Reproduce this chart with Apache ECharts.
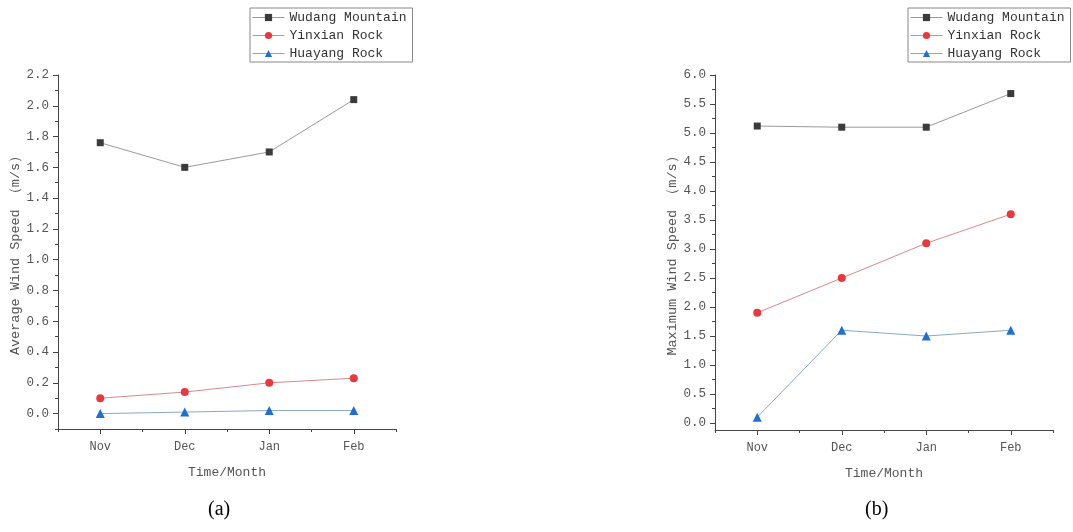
<!DOCTYPE html>
<html><head><meta charset="utf-8">
<script src="https://cdn.jsdelivr.net/npm/echarts@6/dist/echarts.min.js"></script>
<style>html,body{margin:0;padding:0;background:#fff}#c{width:1073px;height:532px}</style>
</head><body><div id="c"></div>
<script>
const months = ['Nov', 'Dec', 'Jan', 'Feb'];
const seriesNames = ['Wudang Mountain', 'Yinxian Rock', 'Huayang Rock'];
// (a) Average wind speed
const avgWudang = [1.76, 1.60, 1.70, 2.04];
const avgYinxian = [0.10, 0.14, 0.20, 0.23];
const avgHuayang = [0.00, 0.01, 0.02, 0.02];
// (b) Maximum wind speed
const maxWudang = [5.12, 5.10, 5.10, 5.68];
const maxYinxian = [1.90, 2.50, 3.10, 3.60];
const maxHuayang = [0.10, 1.60, 1.50, 1.60];
// tick labels
const ticksA = [0, 0.2, 0.4, 0.6, 0.8, 1.0, 1.2, 1.4, 1.6, 1.8, 2.0, 2.2];
const minorA = [-0.1, 0.1, 0.3, 0.5, 0.7, 0.9, 1.1, 1.3, 1.5, 1.7, 1.9, 2.1];
const ticksB = [0, 0.5, 1.0, 1.5, 2.0, 2.5, 3.0, 3.5, 4.0, 4.5, 5.0, 5.5, 6.0];
const minorB = [0.25, 0.75, 1.25, 1.75, 2.25, 2.75, 3.25, 3.75, 4.25, 4.75, 5.25, 5.75];

const FONT = '"Liberation Mono", "DejaVu Sans Mono", monospace';
const TXT = '#555';
const AX = '#444';
const styles = [
  {symbol: 'rect', size: 7, color: '#3b3b3b', line: '#9a9a9a'},
  {symbol: 'circle', size: 8, color: '#e8383d', line: '#d98a8a'},
  {symbol: 'triangle', size: 9, color: '#1f6fd0', line: '#8aa9c4'}
];

const chart = echarts.init(document.getElementById('c'), null, {renderer: 'canvas'});

const panels = [
  {left: 58, top: 75, height: 354, min: -0.1, max: 2.2, ticks: ticksA, minor: minorA,
   name: 'Average Wind Speed （m/s）', data: [avgWudang, avgYinxian, avgHuayang], legendLeft: 250, fmt: v => v.toFixed(1)},
  {left: 715, top: 75, height: 355, min: -0.12, max: 6.0, ticks: ticksB, minor: minorB,
   name: 'Maximum Wind Speed （m/s）', data: [maxWudang, maxYinxian, maxHuayang], legendLeft: 908, fmt: v => v.toFixed(1)}
];

const option = {
  animation: false,
  backgroundColor: '#fff',
  textStyle: {fontFamily: FONT},
  grid: [], xAxis: [], yAxis: [], series: [], legend: [],
  graphic: [
    {type: 'text', left: 208, top: 500, style: {text: '(a)', fontFamily: '"Liberation Serif", serif', fontSize: 20, fill: '#000'}},
    {type: 'text', left: 865, top: 500, style: {text: '(b)', fontFamily: '"Liberation Serif", serif', fontSize: 20, fill: '#000'}}
  ]
};

panels.forEach((p, i) => {
  option.grid.push({left: p.left, top: p.top, width: 338, height: p.height});
  // main x axis
  option.xAxis.push({
    type: 'category', gridIndex: i, data: months, boundaryGap: true, position: 'bottom',
    name: 'Time/Month', nameLocation: 'middle', nameGap: 37,
    nameTextStyle: {fontFamily: FONT, fontSize: 13, color: TXT},
    axisLine: {show: true, onZero: false, lineStyle: {color: AX, width: 1}},
    axisTick: {show: true, alignWithLabel: true, length: 5, lineStyle: {color: AX}},
    axisLabel: {fontFamily: FONT, fontSize: 12, color: TXT, margin: 12},
    splitLine: {show: false}
  });
  // minor x ticks
  option.xAxis.push({
    type: 'category', gridIndex: i, data: months, boundaryGap: true, position: 'bottom',
    axisLine: {show: false, onZero: false},
    axisTick: {show: true, alignWithLabel: false, length: 3, lineStyle: {color: AX}},
    axisLabel: {show: false}, splitLine: {show: false}
  });
  option.yAxis.push({
    type: 'value', gridIndex: i, min: p.min, max: p.max, position: 'left',
    name: p.name, nameLocation: 'middle', nameGap: 34,
    nameTextStyle: {fontFamily: FONT, fontSize: 13.5, color: TXT},
    axisLine: {show: true, onZero: false, lineStyle: {color: AX, width: 1}},
    axisTick: {show: true, length: 5, customValues: p.ticks, lineStyle: {color: AX}},
    axisLabel: {fontFamily: FONT, fontSize: 12.5, color: TXT, margin: 9, customValues: p.ticks, formatter: p.fmt},
    splitLine: {show: false}
  });
  option.yAxis.push({
    type: 'value', gridIndex: i, min: p.min, max: p.max, position: 'left',
    axisLine: {show: false, onZero: false},
    axisTick: {show: true, length: 3, customValues: p.minor, lineStyle: {color: AX}},
    axisLabel: {show: false}, splitLine: {show: false}
  });
  option.legend.push({
    orient: 'vertical', left: p.legendLeft, top: 8,
    data: seriesNames,
    borderColor: '#888', borderWidth: 1, borderRadius: 0,
    padding: [3, 6, 2, 2], itemGap: 5, itemWidth: 32, itemHeight: 9,
    lineStyle: {width: 1},
    textStyle: {fontFamily: FONT, fontSize: 13, color: '#333'},
    selectedMode: false
  });
  p.data.forEach((d, k) => {
    const s = styles[k];
    option.series.push({
      name: seriesNames[k], type: 'line', xAxisIndex: i * 2, yAxisIndex: i * 2,
      data: d, symbol: s.symbol, symbolSize: s.size, showSymbol: true,
      itemStyle: {color: s.color},
      lineStyle: {color: s.line, width: 1},
      z: 3 + k
    });
  });
});

chart.setOption(option);
</script></body></html>
